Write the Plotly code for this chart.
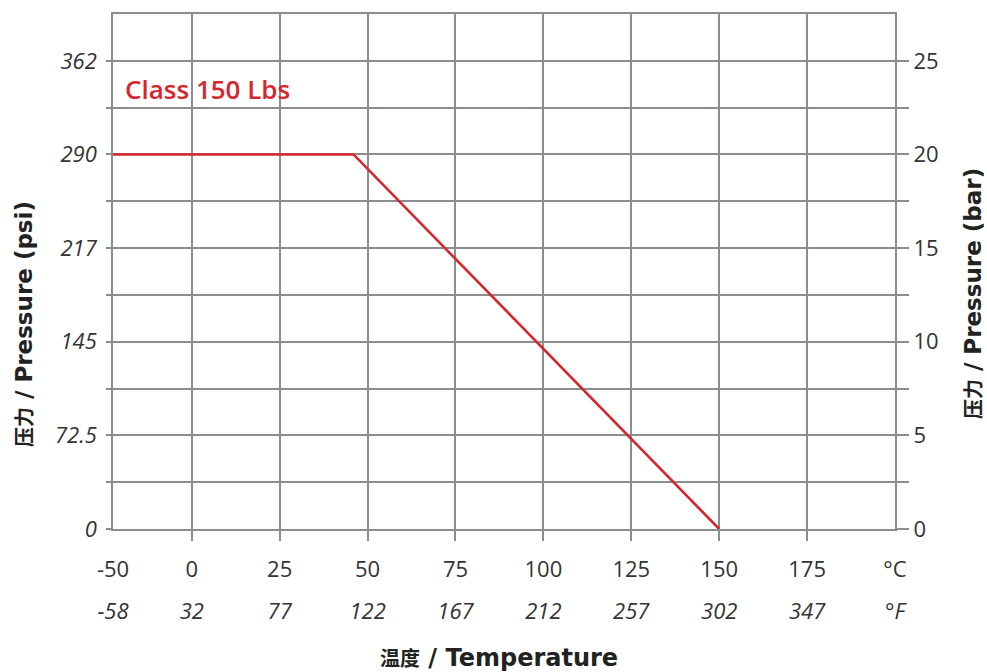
import plotly.graph_objects as go

# ---- data ----
TEMP_C = [-50, 46, 150]          # temperature, °C
PRESSURE_BAR = [20, 20, 0]       # Class 150 Lbs rating, bar

C_TICKS = [0, 25, 50, 75, 100, 125, 150, 175]
C_LABELS = ["-50", "0", "25", "50", "75", "100", "125", "150", "175", "°C"]
F_LABELS = ["-58", "32", "77", "122", "167", "212", "257", "302", "347", "°F"]
X_LEFT = -22.4    # axis is broken: the left edge stands for -50 °C
X_RIGHT = 200

BAR_GRID = [0, 2.5, 5, 7.5, 10, 12.5, 15, 17.5, 20, 22.5, 25]
PSI_LABELS = ["0", "", "72.5", "", "145", "", "217", "", "290", "", "362"]
BAR_LABELS = ["0", "", "5", "", "10", "", "15", "", "20", "", "25"]
Y_MAX = 27.5

SERIES_NAME = "Class 150 Lbs"

# ---- styling ----
GRID = "#8a8d92"
RED = "#d7262c"
TXT = "#333333"
FONT = "Open Sans"
TITLE_FONT = "DejaVu Sans, Noto Sans CJK SC"
TICK_SIZE = 22

x_edge_vals = [X_LEFT] + C_TICKS + [X_RIGHT]

fig = go.Figure()
fig.add_trace(go.Scatter(x=TEMP_C, y=PRESSURE_BAR, mode="lines", name=SERIES_NAME,
                         line=dict(color=RED, width=2.6), showlegend=False,
                         xaxis="x", yaxis="y"))
# helper traces so the overlay axes are drawn
fig.add_trace(go.Scatter(x=[None], y=[None], xaxis="x2", yaxis="y2",
                         showlegend=False, hoverinfo="skip"))
fig.add_trace(go.Scatter(x=[None], y=[None], xaxis="x3", yaxis="y",
                         showlegend=False, hoverinfo="skip"))

fig.update_layout(
    width=987, height=672,
    margin=dict(l=113, r=92, t=14, b=143),
    paper_bgcolor="white", plot_bgcolor="white",
    font=dict(family=FONT, size=TICK_SIZE, color=TXT),
    showlegend=False,
    xaxis=dict(
        range=[X_LEFT, X_RIGHT], tickmode="array",
        tickvals=x_edge_vals, ticktext=C_LABELS,
        ticks="", showgrid=True, gridcolor=GRID, gridwidth=1.5,
        showline=True, linecolor=GRID, linewidth=1.5, mirror=True,
        zeroline=False, ticklabelstandoff=20,
        tickfont=dict(family=FONT, size=TICK_SIZE, color=TXT),
    ),
    xaxis2=dict(
        range=[X_LEFT, X_RIGHT], overlaying="x", anchor="y", side="bottom",
        tickmode="array", tickvals=x_edge_vals,
        ticktext=["<i>%s</i>" % t for t in F_LABELS],
        ticks="", showgrid=False, showline=False, zeroline=False,
        ticklabelstandoff=67,
        tickfont=dict(family=FONT, size=TICK_SIZE, color=TXT),
    ),
    xaxis3=dict(
        range=[X_LEFT, X_RIGHT], overlaying="x", anchor="y", side="bottom",
        tickmode="array", tickvals=C_TICKS, ticktext=[""] * len(C_TICKS),
        ticks="outside", ticklen=11, tickwidth=1.5, tickcolor=GRID,
        showgrid=False, showline=False, zeroline=False,
    ),
    yaxis=dict(
        range=[0, Y_MAX], tickmode="array", tickvals=BAR_GRID,
        ticktext=["<i>%s</i>" % t if t else "" for t in PSI_LABELS],
        ticks="outside", ticklen=5, tickwidth=1.5, tickcolor=GRID,
        showgrid=True, gridcolor=GRID, gridwidth=1.5,
        showline=True, linecolor=GRID, linewidth=1.5, mirror=True,
        zeroline=False, ticklabelstandoff=5,
        tickfont=dict(family=FONT, size=TICK_SIZE, color=TXT),
    ),
    yaxis2=dict(
        range=[0, Y_MAX], overlaying="y", anchor="x", side="right",
        tickmode="array", tickvals=BAR_GRID, ticktext=BAR_LABELS,
        ticks="outside", ticklen=13, tickwidth=1.5, tickcolor=GRID,
        showgrid=False, showline=False, zeroline=False,
        ticklabelstandoff=0,
        tickfont=dict(family=FONT, size=TICK_SIZE, color=TXT),
    ),
)

# series label
fig.add_annotation(x=X_LEFT, y=23.5, xref="x", yref="y", text=SERIES_NAME,
                   showarrow=False, xanchor="left", yanchor="middle", xshift=10,
                   font=dict(family=FONT, size=26, color=RED, weight=600))

# axis titles
CJK = "<span style='font-size:20px'>%s</span>"
fig.add_annotation(x=0.493, y=-0.2505, xref="paper", yref="paper",
                   text="<b>%s / Temperature</b>" % (CJK % "温度"), showarrow=False,
                   xanchor="center", yanchor="middle",
                   font=dict(family=TITLE_FONT, size=24, color="#222222"))
fig.add_annotation(x=-0.1138, y=0.398, xref="paper", yref="paper",
                   text="<b>%s / Pressure (psi)</b>" % (CJK % "压力"), showarrow=False,
                   textangle=-90, xanchor="center", yanchor="middle",
                   font=dict(family=TITLE_FONT, size=23, color="#222222"))
fig.add_annotation(x=1.0997, y=0.458, xref="paper", yref="paper",
                   text="<b>%s / Pressure (bar)</b>" % (CJK % "压力"), showarrow=False,
                   textangle=-90, xanchor="center", yanchor="middle",
                   font=dict(family=TITLE_FONT, size=23, color="#222222"))

# the page is photographed at its top-left corner: drop the default body margin
fig.write_html("out.html", config={"displayModeBar": False},
               post_script="document.body.style.margin='0';document.body.style.padding='0';")
